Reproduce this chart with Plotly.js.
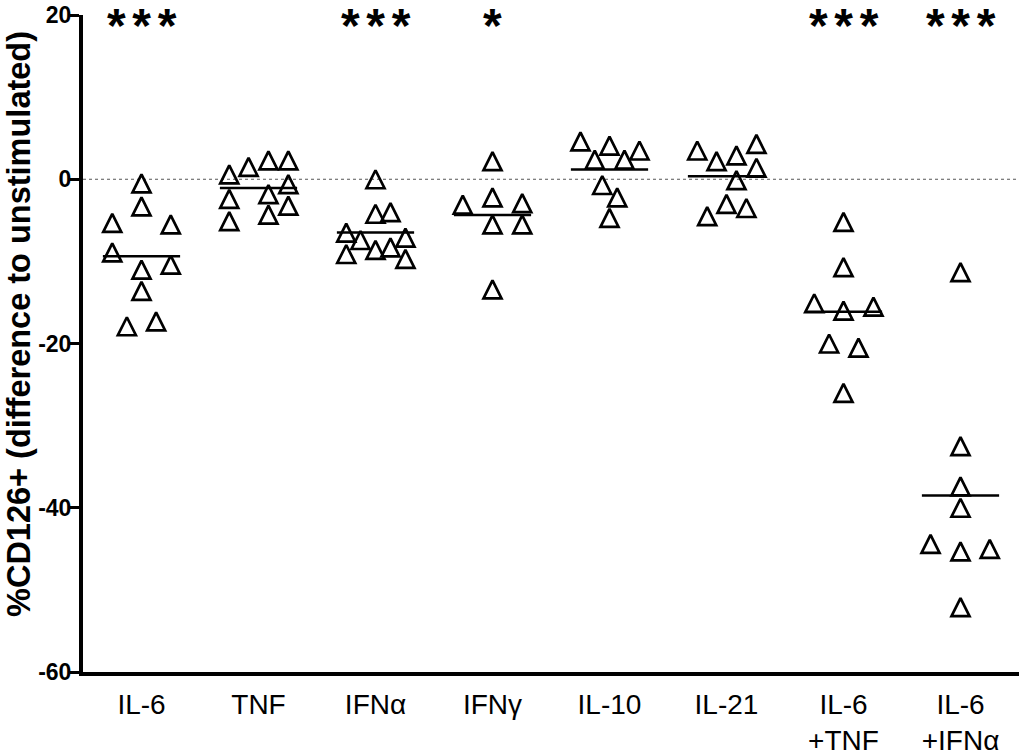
<!DOCTYPE html>
<html>
<head>
<meta charset="utf-8">
<script src="https://cdn.plot.ly/plotly-3.0.1.min.js"></script>
<style>
html,body{margin:0;padding:0;background:#fff;}
#chart{width:1024px;height:756px;}
</style>
</head>
<body>
<div id="chart"></div>
<script>
// Category labels (x axis)
const categories = ['IL-6', 'TNF', 'IFNα', 'IFNγ', 'IL-10', 'IL-21', 'IL-6<br>+TNF', 'IL-6<br>+IFNα'];

// Values: %CD126+ difference to unstimulated, per stimulation
const valIL6     = [-5.3, -8.9, -17.9, -0.5, -3.3, -11.0, -13.6, -17.3, -5.5, -10.4];
const valTNF     = [0.6, -2.4, -5.1, 1.5, 2.3, -1.8, -4.3, 2.3, -0.6, -3.2];
const valIFNa    = [-6.5, -9.1, -7.4, 0.0, -4.2, -8.6, -4.0, -8.3, -7.1, -9.7];
const valIFNg    = [-3.1, 2.2, -2.2, -5.5, -13.4, -2.9, -5.5];
const valIL10    = [4.6, 2.4, 4.1, -0.7, -2.2, -4.7, 2.4, 3.5];
const valIL21    = [3.5, -4.5, 2.2, -3.0, 2.9, -0.1, -3.5, 4.3, 1.4];
const valIL6TNF  = [-5.2, -10.7, -16.0, -26.0, -15.1, -15.5, -20.0, -20.5];
const valIL6IFNa = [-11.3, -32.5, -37.4, -40.0, -45.3, -52.1, -44.4, -45.0];

// Significance marks above each category
const significance = ['***', '', '***', '*', '', '', '***', '***'];

// y tick values
const yTicks = [-60, -40, -20, 0, 20];

const yTitle = '%CD126+ (difference to unstimulated)';

// Horizontal scatter spread of points within a column (category units)
const spreadIL6     = [-0.25, -0.25, -0.125, 0, 0, 0, 0, 0.125, 0.25, 0.25];
const spreadTNF     = [-0.25, -0.25, -0.25, -0.085, 0.085, 0.085, 0.085, 0.255, 0.255, 0.255];
const spreadIFNa    = [-0.25, -0.25, -0.128, 0, 0, 0, 0.128, 0.128, 0.256, 0.256];
const spreadIFNg    = [-0.254, 0, 0, 0, 0, 0.254, 0.254];
const spreadIL10    = [-0.248, -0.126, 0, -0.062, 0.066, 0, 0.128, 0.256];
const spreadIL21    = [-0.25, -0.165, -0.085, 0, 0.085, 0.085, 0.17, 0.256, 0.256];
const spreadIL6TNF  = [0, 0, 0, 0, -0.25, 0.256, -0.123, 0.128];
const spreadIL6IFNa = [0, 0, 0, 0, 0, 0, -0.256, 0.25];

const groups = [valIL6, valTNF, valIFNa, valIFNg, valIL10, valIL21, valIL6TNF, valIL6IFNa];
const spreads = [spreadIL6, spreadTNF, spreadIFNa, spreadIFNg, spreadIL10, spreadIL21, spreadIL6TNF, spreadIL6IFNa];

const FONT = 'Liberation Sans, Arial, sans-serif';
const MSIZE = 18;
const ptsX = [], ptsY = [];
groups.forEach((vals, i) => {
  vals.forEach((v, j) => { ptsX.push(i + spreads[i][j]); ptsY.push(v); });
});

const meanX = [], meanY = [];
const HALF = 0.33;
groups.forEach((vals, i) => {
  const m = vals.reduce((a, b) => a + b, 0) / vals.length;
  meanX.push(i - HALF, i + HALF, null);
  meanY.push(m, m, null);
});

const traces = [
  {
    type: 'scatter', mode: 'lines', x: meanX, y: meanY,
    line: {color: '#000', width: 2.5}, hoverinfo: 'skip', showlegend: false
  },
  {
    type: 'scatter', mode: 'markers', x: ptsX, y: ptsY,
    marker: {
      symbol: 'arrow-down-open', angle: 180, standoff: MSIZE / 2,
      size: MSIZE, color: '#000', line: {width: 2.7, color: '#000'}
    },
    cliponaxis: false, showlegend: false
  }
];

const spacer = '<span style="font-size:24px"> </span>';
const annotations = significance.map((s, i) => ({
  x: i, y: 1, xref: 'x', yref: 'paper', text: s.split('').join(spacer), showarrow: false,
  xanchor: 'center', yanchor: 'top', yshift: 17, borderpad: 0,
  font: {family: FONT, size: 48, color: '#000', weight: 'bold'}
})).filter(a => a.text);

// y-axis title placed as rotated text beside the axis
annotations.push({
  x: 0, y: 0.5297, xref: 'paper', yref: 'paper', xshift: -64,
  text: yTitle, textangle: -90, showarrow: false, xanchor: 'center', yanchor: 'middle', borderpad: 0,
  font: {family: FONT, size: 32.5, color: '#000', weight: 'bold'}
});

const layout = {
  width: 1024, height: 756,
  margin: {l: 83, r: 5, t: 15, b: 84},
  paper_bgcolor: '#fff', plot_bgcolor: '#fff',
  showlegend: false,
  font: {family: FONT, color: '#000'},
  xaxis: {
    range: [-0.5, 7.5], tickvals: categories.map((c, i) => i), ticktext: categories,
    showline: true, linewidth: 4, linecolor: '#000', ticks: '', showgrid: false, zeroline: false,
    tickfont: {size: 28, family: FONT}, ticklabelstandoff: 4
  },
  yaxis: {
    range: [-60, 20], tickvals: yTicks, ticktext: yTicks.map(String),
    showline: true, linewidth: 4, linecolor: '#000', ticks: 'outside', ticklen: 9, tickwidth: 3, tickcolor: '#000',
    showgrid: false, zeroline: false, ticklabelstandoff: -6,
    tickfont: {size: 23, family: FONT, weight: 'bold'}
  },
  shapes: [{
    type: 'line', xref: 'paper', yref: 'y', x0: 0, x1: 1, y0: 0, y1: 0,
    line: {color: '#555', width: 1, dash: 'dot'}, layer: 'below'
  }],
  annotations: annotations
};

Plotly.newPlot('chart', traces, layout, {displayModeBar: false, staticPlot: true});
</script>
</body>
</html>
